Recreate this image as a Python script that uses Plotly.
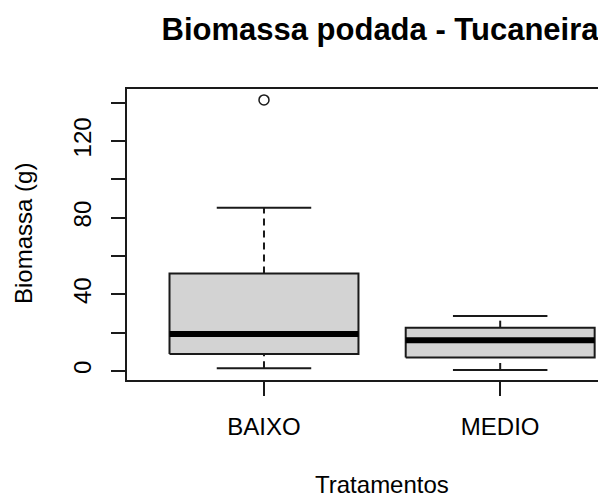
import plotly.graph_objects as go

# ---- data ----
categories = ["BAIXO", "MEDIO"]
lower_whisker = [1.4, 0.5]
q1 = [8.9, 7.1]
median = [19.3, 16.0]
q3 = [50.8, 22.6]
upper_whisker = [85.2, 28.7]
outlier_cat = [1]
outlier_val = [141.4]
y_tick_vals = [0, 20, 40, 60, 80, 100, 120, 140]
y_tick_text = ["0", "", "40", "", "80", "", "120", ""]

# ---- style ----
BOX_HALF = 0.4
CAP_HALF = 0.2
FONT = "Liberation Sans, Arial, sans-serif"
LINE = "#1a1a1a"
FILL = "#d3d3d3"
OFF = 8  # page body margin of the html page

pos = [i + 1 for i in range(len(categories))]

fig = go.Figure()

# boxes (filled rectangles)
bx, by = [], []
for p, a, b in zip(pos, q1, q3):
    bx += [p - BOX_HALF, p + BOX_HALF, p + BOX_HALF, p - BOX_HALF, p - BOX_HALF, None]
    by += [a, a, b, b, a, None]
fig.add_trace(go.Scatter(x=bx, y=by, mode="lines", fill="toself", fillcolor=FILL,
                         line=dict(color=LINE, width=2), hoverinfo="skip", showlegend=False))

# dashed whiskers
wx, wy = [], []
for p, lo, a, b, hi in zip(pos, lower_whisker, q1, q3, upper_whisker):
    wx += [p, p, None, p, p, None]
    wy += [lo, a, None, b, hi, None]
fig.add_trace(go.Scatter(x=wx, y=wy, mode="lines",
                         line=dict(color=LINE, width=2, dash="7px,5px"),
                         hoverinfo="skip", showlegend=False))

# whisker caps
cx, cy = [], []
for p, lo, hi in zip(pos, lower_whisker, upper_whisker):
    cx += [p - CAP_HALF, p + CAP_HALF, None, p - CAP_HALF, p + CAP_HALF, None]
    cy += [lo, lo, None, hi, hi, None]
fig.add_trace(go.Scatter(x=cx, y=cy, mode="lines", line=dict(color=LINE, width=2),
                         hoverinfo="skip", showlegend=False))

# medians (thick)
mx, my = [], []
for p, m in zip(pos, median):
    mx += [p - BOX_HALF, p + BOX_HALF, None]
    my += [m, m, None]
fig.add_trace(go.Scatter(x=mx, y=my, mode="lines", line=dict(color="black", width=6),
                         hoverinfo="skip", showlegend=False))

# outliers
fig.add_trace(go.Scatter(x=outlier_cat, y=outlier_val, mode="markers",
                         marker=dict(symbol="circle-open", size=10, color=LINE,
                                     line=dict(width=1.5, color=LINE)),
                         showlegend=False))

W, H = 606 - OFF, 497 - OFF
L = 127 - OFF
T = 89 - OFF
PB = 380 - OFF  # plot bottom in figure px
B = H - PB
R = 0
pw = W - L - R
ph = PB - T

fig.update_layout(
    width=W, height=H,
    margin=dict(l=L, r=R, t=T, b=B, pad=0),
    paper_bgcolor="white", plot_bgcolor="white",
    font=dict(family=FONT, size=24, color="black"),
    showlegend=False,
    title=dict(text="<b>Biomassa podada - Tucaneira</b>",
               font=dict(family=FONT, size=31, color="black"),
               xref="paper", x=(380 - OFF - L) / pw, xanchor="center",
               yref="container", y=1 - (29.5 - OFF) / H, yanchor="middle"),
    xaxis=dict(range=[0.42, 2.448], tickvals=pos, ticktext=categories,
               showline=True, linecolor=LINE, linewidth=2, mirror=True,
               ticks="outside", ticklen=14, tickwidth=2, tickcolor=LINE,
               showgrid=False, zeroline=False, ticklabelstandoff=10,
               tickfont=dict(size=24, color="black")),
    yaxis=dict(range=[-4.7, 147.1], tickvals=y_tick_vals, ticktext=y_tick_text,
               showline=True, linecolor=LINE, linewidth=2, mirror=False,
               ticks="outside", ticklen=14, tickwidth=2, tickcolor=LINE,
               tickangle=-90, showgrid=False, zeroline=False, ticklabelstandoff=10,
               tickfont=dict(size=24, color="black")),
    annotations=[
        dict(text="Tratamentos", xref="paper", yref="paper",
             x=(382 - OFF - L) / pw, y=-(484 - 380) / ph,
             xanchor="center", yanchor="middle", showarrow=False,
             font=dict(size=24, color="black", family=FONT)),
        dict(text="Biomassa (g)", xref="paper", yref="paper",
             x=(23 - OFF - L) / pw, y=(380 - 234) / ph, textangle=-90,
             xanchor="center", yanchor="middle", showarrow=False,
             font=dict(size=24, color="black", family=FONT)),
    ],
)

fig.write_html("out.html")
